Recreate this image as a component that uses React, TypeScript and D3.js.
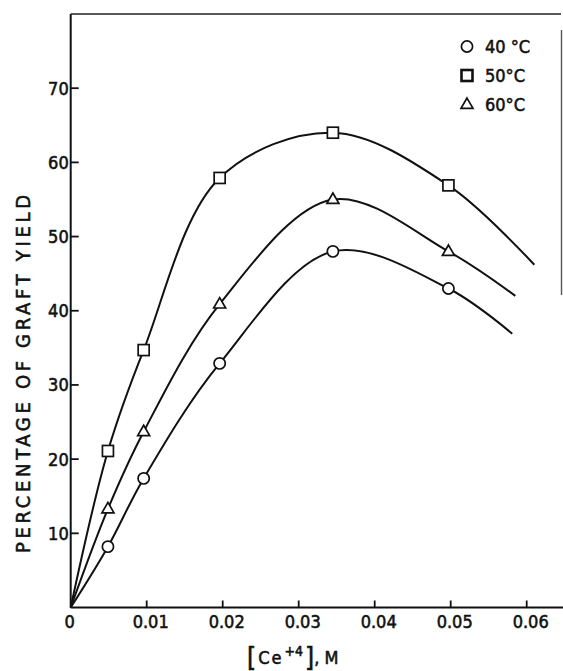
import React from "react";
import * as d3 from "d3";

const width = 563;
const height = 671;
const margin = { top: 14, left: 70.7, bottom: 63, right: 0 };

// cerium concentration, M
const conc = [0, 0.0049, 0.0096, 0.0196, 0.0345, 0.0497];
const yield40 = [0, 8.2, 17.4, 32.9, 48.0, 43.0];
const yield50 = [0, 21.1, 34.7, 57.9, 64.0, 56.9];
const yield60 = [0, 13.3, 23.7, 40.9, 55.0, 48.0];
// where each drawn curve stops (no marker there)
const tail40 = [0.0581, 36.9];
const tail50 = [0.061, 46.2];
const tail60 = [0.0585, 42.0];

const xTicks = [0, 0.01, 0.02, 0.03, 0.04, 0.05, 0.06];
const xTickLabels = ["0", "0.01", "0.02", "0.03", "0.04", "0.05", "0.06"];
const yTicks = [10, 20, 30, 40, 50, 60, 70];
const legendLabels = ["40 °C", "50°C", "60°C"];

const font = "'DejaVu Sans Condensed', 'DejaVu Sans', sans-serif";
// scanned print looks heavier than the plain face
const ink = { fill: "#111", stroke: "#111", strokeWidth: 0.55 };

const x = d3.scaleLinear().domain([0, 0.01]).range([margin.left, margin.left + 76]);
const y = d3.scaleLinear().domain([0, 80]).range([height - margin.bottom - 0.5, margin.top]);

const line = d3
  .line<number[]>()
  .x((d) => x(d[0]))
  .y((d) => y(d[1]))
  .curve(d3.curveCatmullRom.alpha(0.5));

function Marker({ kind, cx, cy, sw = 1.7 }: { kind: string; cx: number; cy: number; sw?: number }) {
  const st = { fill: "#fff", stroke: "#111", strokeWidth: sw };
  if (kind === "circle") return <circle cx={cx} cy={cy} r={5.6} {...st} />;
  if (kind === "square") return <rect x={cx - 5.5} y={cy - 5.5} width={11} height={11} {...st} />;
  const s = 12;
  const h = (s * Math.sqrt(3)) / 2;
  return (
    <path
      d={`M${cx},${cy - h * 0.62}L${cx + s / 2},${cy + h * 0.38}L${cx - s / 2},${cy + h * 0.38}Z`}
      {...st}
    />
  );
}

export default function App() {
  const series = [
    { kind: "circle", vals: yield40, tail: tail40 },
    { kind: "square", vals: yield50, tail: tail50 },
    { kind: "triangle", vals: yield60, tail: tail60 },
  ];
  const x0 = y(0);

  return (
    <div style={{ position: "absolute", left: 0, top: 0 }}>
      <svg width={width} height={height} style={{ display: "block", background: "#fff" }}>
        {/* frame: left axis, top edge and a bit of the scanned right edge */}
        <line x1={margin.left} x2={margin.left} y1={margin.top} y2={x0} stroke="#111" strokeWidth={2} />
        <line x1={margin.left} x2={width - 2} y1={margin.top} y2={margin.top} stroke="#222" strokeWidth={1.6} />
        <line x1={margin.left} x2={width} y1={x0} y2={x0} stroke="#111" strokeWidth={2} />
        <line x1={561.5} x2={561.5} y1={30} y2={295} stroke="#555" strokeWidth={1.4} />

        {yTicks.map((t) => (
          <g key={t}>
            <line x1={margin.left} x2={margin.left + 8} y1={y(t)} y2={y(t)} stroke="#111" strokeWidth={1.8} />
            <text
              x={margin.left - 2}
              y={y(t)}
              dy="0.36em"
              textAnchor="end"
              fontFamily={font}
              fontSize={18}
              {...ink}
            >
              {t}
            </text>
          </g>
        ))}

        {xTicks.map((t, i) => (
          <g key={t}>
            {i > 0 && <line x1={x(t)} x2={x(t)} y1={x0} y2={x0 - 7} stroke="#111" strokeWidth={1.8} />}
            <text
              x={x(t) + (i > 0 ? 4 : -1)}
              y={628}
              textAnchor="middle"
              fontFamily={font}
              fontSize={18}
              {...ink}
            >
              {xTickLabels[i]}
            </text>
          </g>
        ))}

        {series.map((s) => {
          const pts = conc.map((c, i) => [c, s.vals[i]]).concat([s.tail]);
          return (
            <g key={s.kind}>
              <path d={line(pts) || ""} fill="none" stroke="#111" strokeWidth={2} />
              {conc.slice(1).map((c, i) => (
                <Marker key={i} kind={s.kind} cx={x(c)} cy={y(s.vals[i + 1])} />
              ))}
            </g>
          );
        })}

        {legendLabels.map((lab, i) => {
          const ly = 46.5 + i * 29;
          return (
            <g key={lab}>
              <Marker kind={series[i].kind} cx={467} cy={ly} sw={i === 1 ? 2.6 : 1.7} />
              <text x={485} y={ly} dy="0.38em" fontFamily={font} fontSize={18} {...ink}>
                {lab}
              </text>
            </g>
          );
        })}

        <text
          transform={`translate(30,374) rotate(-90)`}
          textAnchor="middle"
          fontFamily={font}
          fontSize={20}
          {...ink}
          textLength={358}
          lengthAdjust="spacing"
        >
          PERCENTAGE OF GRAFT YIELD
        </text>

        <text x={247} y={664} fontFamily={font} fontSize={18} {...ink}>
          <tspan fontSize={26} dy={2}>[</tspan>
          <tspan dx={2} dy={-2} letterSpacing={2}>Ce</tspan>
          <tspan fontSize={14} dy={-8} dx={1}>+4</tspan>
          <tspan fontSize={26} dy={10} dx={2}>]</tspan>
          <tspan dy={-2}>, M</tspan>
        </text>
      </svg>
    </div>
  );
}
